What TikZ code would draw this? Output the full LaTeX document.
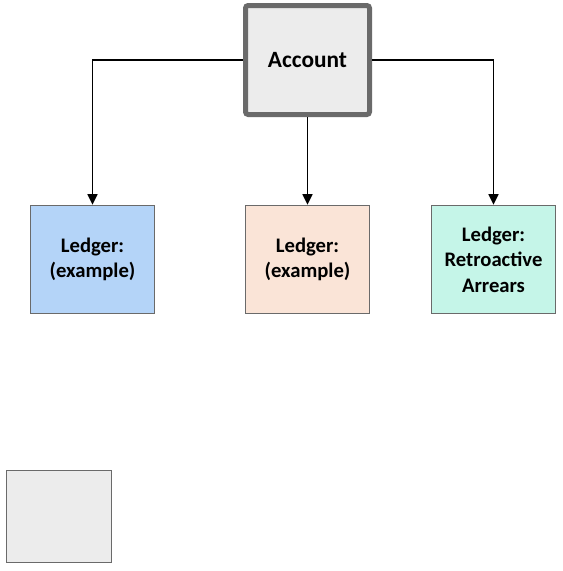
\documentclass[tikz,border=0pt]{standalone}
\usepackage{fontspec}
\setmainfont{Carlito}
\usetikzlibrary{arrows.meta,patterns}

\definecolor{ledgerblue}{HTML}{B4D4F8}
\definecolor{ledgerpeach}{HTML}{FAE4D7}
\definecolor{ledgermint}{HTML}{C5F5E8}
\definecolor{boxgray}{HTML}{ECECEC}
\definecolor{edgegray}{HTML}{6A6A6A}

\tikzset{
  ledger/.style={draw=edgegray,line width=1.1pt,minimum width=93pt,minimum height=81pt,
    align=center,font=\fontsize{15.5}{19}\selectfont\bfseries},
  link/.style={line width=1.2pt,-{Triangle[length=8pt,width=7.5pt]}}
}

\begin{document}
\begin{tikzpicture}[x=0.75pt,y=-0.75pt]
  \useasboundingbox (0,0) rectangle (562,571);

  \node[draw=edgegray,line width=3.75pt,rounded corners=2pt,fill=boxgray,
    minimum width=93pt,minimum height=81.75pt,font=\fontsize{17.5}{21}\selectfont\bfseries]
    (account) at (307.5,60) {Account};

  \node[ledger,fill=ledgerblue] (ledgerA) at (92.5,259.5) {Ledger:\\(example)};
  \node[ledger,fill=ledgerpeach] (ledgerB) at (307.5,259.5) {Ledger:\\(example)};
  \node[ledger,fill=ledgermint] (ledgerC) at (493.5,259.5) {Ledger:\\Retroactive\\Arrears};

  \node[draw=edgegray,line width=1.1pt,fill=boxgray,minimum width=78.75pt,minimum height=69pt]
    (legend) at (59,516.5) {};

  \draw[link] (account.west) -| (ledgerA.north);
  \draw[link] (account.south) -- (ledgerB.north);
  \draw[link] (account.east) -| (ledgerC.north);
\end{tikzpicture}
\end{document}
